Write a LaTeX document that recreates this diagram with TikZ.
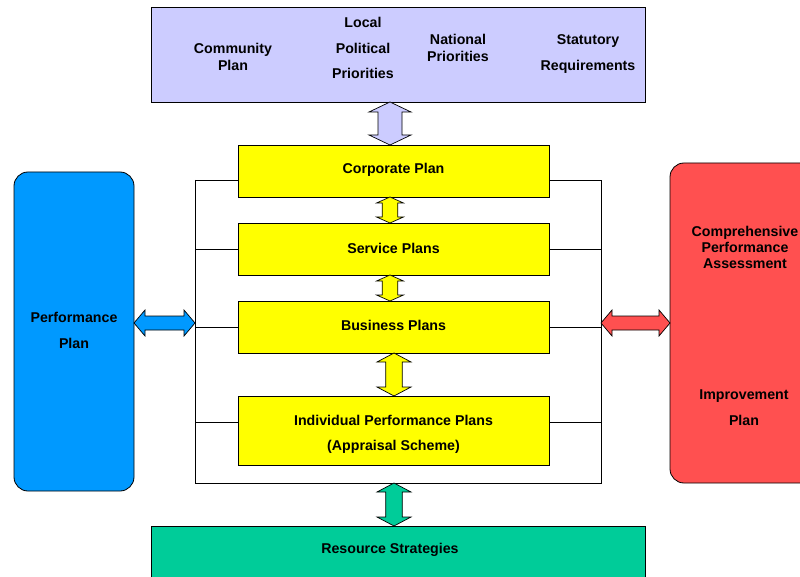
\documentclass[tikz,border=0pt]{standalone}
\usepackage{fontspec}
\setmainfont{Liberation Sans}
\usetikzlibrary{calc}
\definecolor{lav}{HTML}{CCCCFF}
\definecolor{yel}{HTML}{FFFF00}
\definecolor{pblue}{HTML}{0099FF}
\definecolor{pred}{HTML}{FF5050}
\definecolor{pgreen}{HTML}{00CC99}
% vertical block double arrow: #1 top point (x,y), #2 bottom point (y only), #3 half head, #4 half shaft, #5 head length, #6 colour
\newcommand\vblockarrow[6]{%
  \filldraw[fill=#6, draw=black, line width=0.7pt] let \p1=#1, \p2=#2 in
    (\x1,\y1) -- (\x1+#3pt,\y1-#5pt) -- (\x1+#4pt,\y1-#5pt) -- (\x1+#4pt,\y2+#5pt)
    -- (\x1+#3pt,\y2+#5pt) -- (\x1,\y2) -- (\x1-#3pt,\y2+#5pt) -- (\x1-#4pt,\y2+#5pt)
    -- (\x1-#4pt,\y1-#5pt) -- (\x1-#3pt,\y1-#5pt) -- cycle;}
% horizontal block double arrow: #1 left point (x,y), #2 right point (x only)
\newcommand\hblockarrow[6]{%
  \filldraw[fill=#6, draw=black, line width=0.7pt] let \p1=#1, \p2=#2 in
    (\x1,\y1) -- (\x1+#5pt,\y1+#3pt) -- (\x1+#5pt,\y1+#4pt) -- (\x2-#5pt,\y1+#4pt)
    -- (\x2-#5pt,\y1+#3pt) -- (\x2,\y1) -- (\x2-#5pt,\y1-#3pt) -- (\x2-#5pt,\y1-#4pt)
    -- (\x1+#5pt,\y1-#4pt) -- (\x1+#5pt,\y1-#3pt) -- cycle;}
\begin{document}
\begin{tikzpicture}[x=1pt,y=-1pt,
  every node/.style={font=\fontsize{14.2}{17}\selectfont\bfseries, align=center},
  box/.style={draw=black, line width=0.8pt, inner sep=0pt, outer sep=0pt},
  plan/.style={box, fill=yel, minimum width=311pt},
  side/.style={box, rounded corners=14pt},
  lbl/.style={inner sep=0pt},
  frame/.style={draw=black, line width=0.8pt}]
\useasboundingbox (0,0) rectangle (800,577);
\clip (0,0) rectangle (800,577);
\fill[white] (0,0) rectangle (800,577);

% top box
\node[box, fill=lav, minimum width=494pt, minimum height=95pt] (top) at (398,54.5) {};
\node[lbl] (comm) at (233,56.5) {Community\\Plan};
\node[lbl] (local) at (363,48) {Local\\[8.5pt]Political\\[8.5pt]Priorities};
\node[lbl] (nat) at (458,47.5) {National\\Priorities};
\node[lbl] (stat) at (588,54) {Statutory\\[9pt]Requirements};

% plans
\node[plan, minimum height=52pt] (corp) at (393.5,171) {};
\node[lbl] (corpt) at (393.5,170) {Corporate Plan};
\node[plan, minimum height=52pt] (svc) at (393.5,249) {};
\node[lbl] (svct) at (393.5,248) {Service Plans};
\node[plan, minimum height=52pt] (bus) at (393.5,327) {};
\node[lbl] (bust) at (393.5,325) {Business Plans};
\node[plan, minimum height=69pt] (ind) at (393.5,430.5) {};
\node[lbl] (indt) at (393.5,434) {Individual Performance Plans\\[8pt](Appraisal Scheme)};

% side boxes
\node[side, fill=pblue, minimum width=120pt, minimum height=319pt] (perf) at (74,331.5) {};
\node[lbl] (perft) at (74,330) {Performance\\[9pt]Plan};
\node[side, fill=pred, minimum width=145pt, minimum height=320pt] (cpa) at (742.5,323) {};
\node[lbl] (cpat) at (745,247.5) {Comprehensive\\[-1pt]Performance\\[-1pt]Assessment};
\node[lbl] (impt) at (744,408) {Improvement\\[9pt]Plan};

% bottom box
\node[box, fill=pgreen, minimum width=494pt, minimum height=64pt] (res) at (398,558) {};
\node[lbl] (rest) at (390,550) {Resource Strategies};

% frame
\coordinate (FL) at (195,180);
\coordinate (FR) at (601,180);
\coordinate (BL) at (195,483);
\coordinate (BR) at (601,483);
\draw[frame] (FL) -- (BL) -- (BR) -- (FR);
\draw[frame] (FL) -- (FL -| corp.west);
\draw[frame] (FR) -- (FR -| corp.east);
\draw[frame] (svc.west) -- (svc.west -| FL);
\draw[frame] (svc.east) -- (svc.east -| FR);
\draw[frame] (bus.west) -- (bus.west -| FL);
\draw[frame] (bus.east) -- (bus.east -| FR);
\draw[frame] ($(ind.west)+(0,-8.5)$) -- ($(ind.west -| FL)+(0,-8.5)$);
\draw[frame] ($(ind.east)+(0,-8.5)$) -- ($(ind.east -| FR)+(0,-8.5)$);

% block arrows
\vblockarrow{($(top.south)+(-8,0)$)}{(corp.north)}{21}{12}{10}{lav}
\vblockarrow{($(corp.south)+(-3.5,0)$)}{(svc.north)}{13.5}{7.8}{6}{yel}
\vblockarrow{($(svc.south)+(-3.5,0)$)}{(bus.north)}{13.5}{7.8}{6}{yel}
\vblockarrow{($(bus.south)+(0.5,0)$)}{(ind.north)}{17}{8.3}{9}{yel}
\vblockarrow{($(BL)+(199,0)$)}{(res.north)}{17}{8.3}{9}{pgreen}
\hblockarrow{($(perf.east)+(0,-8.5)$)}{(FL)}{13}{7}{11}{pblue}
\hblockarrow{($(FR)+(0,143)$)}{(cpa.west)}{13}{7}{11}{pred}
\end{tikzpicture}
\end{document}
